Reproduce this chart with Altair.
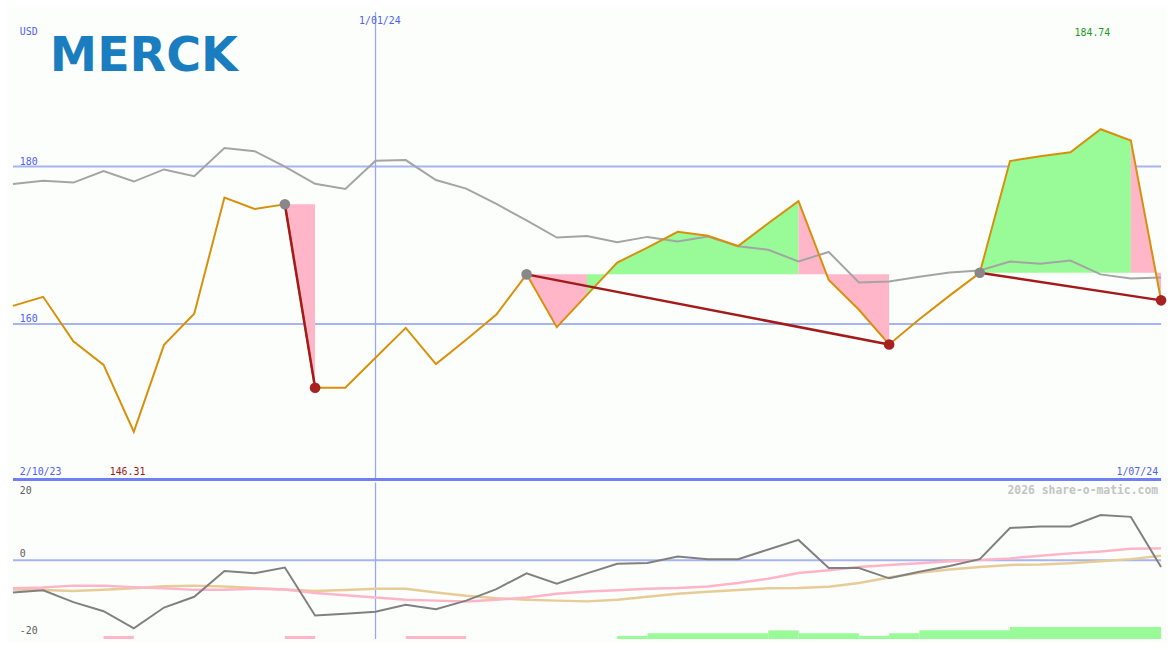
import altair as alt
import pandas as pd

# ---------------- data ----------------
idx = list(range(39))
close = [162.3, 163.45, 157.8, 154.8, 146.31, 157.35, 161.3, 176.06, 174.6, 175.2,
         151.9, 151.9, 155.7, 159.5, 154.9, 158.0, 161.2, 166.3, 159.6, 163.7,
         167.8, 169.7, 171.7, 171.2, 169.9, 172.8, 175.6, 165.6, 161.8, 157.4,
         160.6, 163.6, 166.5, 180.7, 181.3, 181.8, 184.74, 183.3, 163.0]
avg_top = [177.77, 178.2, 177.96, 179.43, 178.09, 179.63, 178.78, 182.35, 181.95, 180.0,
           177.8, 177.16, 180.73, 180.82, 178.29, 177.2, 175.24, 173.17, 170.98, 171.18,
           170.37, 171.06, 170.49, 171.1, 169.88, 169.43, 167.93, 169.15, 165.28, 165.4,
           166.0, 166.55, 166.8, 167.93, 167.65, 168.05, 166.3, 165.77, 165.9]
osc = [-8.4, -7.8, -10.9, -13.25, -17.7, -12.3, -9.5, -2.8, -3.4, -1.9,
       -14.4, -13.9, -13.4, -11.6, -12.75, -10.5, -7.5, -3.4, -6.1, -3.4,
       -0.9, -0.7, 1.0, 0.3, 0.3, 2.8, 5.3, -2.0, -2.0, -4.7,
       -3.0, -1.5, 0.3, 8.4, 8.8, 8.8, 11.8, 11.3, -1.75]
osc_pink = [-7.3, -7.1, -6.6, -6.6, -7.0, -7.3, -7.7, -7.7, -7.4, -7.6,
            -8.5, -9.1, -9.7, -10.25, -10.5, -10.75, -10.3, -9.7, -8.7, -8.1,
            -7.8, -7.4, -7.2, -6.8, -5.9, -4.8, -3.3, -2.6, -1.75, -1.2,
            -0.75, -0.25, 0.1, 0.5, 1.2, 1.8, 2.3, 3.0, 3.1]
osc_tan = [-7.6, -7.75, -8.0, -7.7, -7.3, -6.75, -6.6, -6.8, -7.2, -7.6,
           -8.0, -7.75, -7.4, -7.4, -8.4, -9.25, -9.9, -10.25, -10.5, -10.7,
           -10.3, -9.5, -8.7, -8.2, -7.75, -7.3, -7.2, -6.9, -5.9, -4.5,
           -3.25, -2.4, -1.75, -1.2, -1.1, -0.75, -0.25, 0.3, 1.2]

trade_entry = [9, 17, 32]
trade_exit = [10, 29, 38]

bar_from = [3, 9, 13, 20, 21, 25, 26, 28, 29, 30, 33]
bar_to = [4, 10, 15, 21, 25, 26, 28, 29, 30, 33, 38]
bar_top = [-19.7, -19.7, -19.7, -19.7, -19.0, -18.25, -19.0, -19.7, -19.0, -18.2, -17.4]
bar_kind = ["down", "down", "down", "up", "up", "up", "up", "up", "up", "up", "up"]

grid_levels = [160, 180]
low_levels = [0, -20]
jan_index = 12

# ---------------- styling ----------------
W, H1, H2 = 1159, 472, 158
SX = W / 1175
SY = (H1 + H2) / 650
BG = "#fcfefc"
GRID = "#a8b4f0"
VGRID = "#98a8f8"
BLUE_TXT = "#5060f0"
GREEN_FILL = "#98fb98"
PINK_FILL = "#ffb6c8"
MONO = "DejaVu Sans Mono"

TOP_DOMAIN = [140.24, 199.63]
LOW_DOMAIN = [-20.5, 20.25]
xs = alt.Scale(domain=[0, 38], nice=False, zero=False)
ys_top = alt.Scale(domain=TOP_DOMAIN, nice=False, zero=False)
ys_low = alt.Scale(domain=LOW_DOMAIN, nice=False, zero=False)

df = pd.DataFrame({"i": idx, "close": close, "avg": avg_top, "osc": osc,
                   "pink": osc_pink, "tan": osc_tan})

# fill polygons between price and the entry level of each trade
rows = []
seg = 0
for e, x in zip(trade_entry, trade_exit):
    base = close[e]
    prev = None
    for k in range(e, x):
        col = GREEN_FILL if close[k + 1] > base else PINK_FILL
        if col != prev:
            seg += 1
            rows.append({"seg": seg, "x": k, "v": close[k], "base": base, "col": col})
            prev = col
        rows.append({"seg": seg, "x": k + 1, "v": close[k + 1], "base": base, "col": col})
fills = pd.DataFrame(rows)

trade_rows = []
for t, (e, x) in enumerate(zip(trade_entry, trade_exit)):
    trade_rows.append({"t": t, "x": e, "v": close[e]})
    trade_rows.append({"t": t, "x": x, "v": close[x]})
trades = pd.DataFrame(trade_rows)
entries = pd.DataFrame({"x": trade_entry, "v": [close[e] for e in trade_entry]})
exits = pd.DataFrame({"x": trade_exit, "v": [close[e] for e in trade_exit]})

bars = pd.DataFrame({"a": bar_from, "b": bar_to, "top": bar_top,
                     "base": [LOW_DOMAIN[0]] * len(bar_from),
                     "col": [GREEN_FILL if k == "up" else PINK_FILL for k in bar_kind]})

X = alt.X("i:Q", scale=xs, axis=None)


def label(txt, x, y, color, align="left", size=10, weight="normal", font=MONO):
    return alt.Chart(pd.DataFrame({"t": [txt]})).mark_text(
        align=align, baseline="middle", font=font, fontSize=size,
        fontWeight=weight, color=color
    ).encode(text="t:N", x=alt.value(x), y=alt.value(y))


# ---------------- top panel ----------------
grid = alt.Chart(pd.DataFrame({"v": grid_levels})).mark_rule(
    color=GRID, strokeWidth=2).encode(y=alt.Y("v:Q", scale=ys_top, axis=None))
vline_top = alt.Chart(pd.DataFrame({"x": [jan_index]})).mark_rule(
    color=VGRID, strokeWidth=1.3).encode(x=alt.X("x:Q", scale=xs, axis=None))
area = alt.Chart(fills).mark_area(opacity=1, interpolate="linear").encode(
    x=alt.X("x:Q", scale=xs, axis=None),
    y=alt.Y("v:Q", scale=ys_top, axis=None),
    y2="base:Q",
    detail="seg:N",
    color=alt.Color("col:N", scale=None),
)
avg_line = alt.Chart(df).mark_line(color="#a4a4a4", strokeWidth=2).encode(
    x=X, y=alt.Y("avg:Q", scale=ys_top, axis=None))
price_line = alt.Chart(df).mark_line(color="#d8900a", strokeWidth=2).encode(
    x=X, y=alt.Y("close:Q", scale=ys_top, axis=None))
trade_lines = alt.Chart(trades).mark_line(color="#a31a1a", strokeWidth=2.5).encode(
    x=alt.X("x:Q", scale=xs, axis=None), y=alt.Y("v:Q", scale=ys_top, axis=None),
    detail="t:N")
entry_dots = alt.Chart(entries).mark_circle(color="#888888", size=115, opacity=1).encode(
    x=alt.X("x:Q", scale=xs, axis=None), y=alt.Y("v:Q", scale=ys_top, axis=None))
exit_dots = alt.Chart(exits).mark_circle(color="#a82020", size=115, opacity=1).encode(
    x=alt.X("x:Q", scale=xs, axis=None), y=alt.Y("v:Q", scale=ys_top, axis=None))
grid_labels = alt.Chart(pd.DataFrame({"v": grid_levels, "t": [str(g) for g in grid_levels]})).mark_text(
    align="left", baseline="middle", font=MONO, fontSize=10, color=BLUE_TXT, dy=-5
).encode(x=alt.value(7 * SX), y=alt.Y("v:Q", scale=ys_top, axis=None), text="t:N")
border = alt.Chart(pd.DataFrame({"v": [TOP_DOMAIN[0]]})).mark_rule(
    color="#7080f0", strokeWidth=3).encode(y=alt.Y("v:Q", scale=ys_top, axis=None))

top = alt.layer(
    grid, vline_top, area, avg_line, price_line, trade_lines, entry_dots, exit_dots,
    grid_labels,
    label("USD", 7 * SX, 20.5 * SY, BLUE_TXT),
    label("1/01/24", 375.5 * SX, 9 * SY, BLUE_TXT, align="center"),
    label("184.74", 1123 * SX, 21.5 * SY, "#1a9a1a", align="right"),
    label("2/10/23", 7 * SX, 479.5 * SY, BLUE_TXT),
    label("146.31", 99 * SX, 479.5 * SY, "#a01818"),
    label("1/07/24", 1172 * SX, 479.5 * SY, BLUE_TXT, align="right"),
    label("MERCK", 134 * SX, 47 * SY, "#1a7dc0", align="center", size=48,
          weight="bold", font="DejaVu Sans"),
    border,
).properties(width=W, height=H1)

# ---------------- lower panel ----------------
zero = alt.Chart(pd.DataFrame({"v": [0]})).mark_rule(color=GRID, strokeWidth=2).encode(
    y=alt.Y("v:Q", scale=ys_low, axis=None))
vline_low = alt.Chart(pd.DataFrame({"x": [jan_index]})).mark_rule(
    color=VGRID, strokeWidth=1.3).encode(x=alt.X("x:Q", scale=xs, axis=None))
bar_marks = alt.Chart(bars).mark_rect().encode(
    x=alt.X("a:Q", scale=xs, axis=None), x2="b:Q",
    y=alt.Y("top:Q", scale=ys_low, axis=None), y2="base:Q",
    color=alt.Color("col:N", scale=None))
tan_line = alt.Chart(df).mark_line(color="#e6cc96", strokeWidth=2.5).encode(
    x=X, y=alt.Y("tan:Q", scale=ys_low, axis=None))
pink_line = alt.Chart(df).mark_line(color="#ffb4c8", strokeWidth=2.5).encode(
    x=X, y=alt.Y("pink:Q", scale=ys_low, axis=None))
osc_line = alt.Chart(df).mark_line(color="#808080", strokeWidth=2).encode(
    x=X, y=alt.Y("osc:Q", scale=ys_low, axis=None))
low_labels = alt.Chart(pd.DataFrame({"v": low_levels, "t": [str(v) for v in low_levels]})).mark_text(
    align="left", baseline="middle", font=MONO, fontSize=10, color="#606060", dy=-6
).encode(x=alt.value(7 * SX), y=alt.Y("v:Q", scale=ys_low, axis=None), text="t:N")

low = alt.layer(
    zero, vline_low, bar_marks, tan_line, pink_line, osc_line, low_labels,
    label("20", 7 * SX, 9 * SY, "#606060"),
    label("2026 share-o-matic.com", 1172 * SX, 9 * SY, "#c4c4c4", align="right",
          size=11.5, weight="bold"),
).properties(width=W, height=H2)

chart = alt.vconcat(top, low, spacing=0).properties(
    padding=0, background=BG
).configure_view(stroke=None)

chart.save("out.html", embed_options={"renderer": "svg", "actions": False})
